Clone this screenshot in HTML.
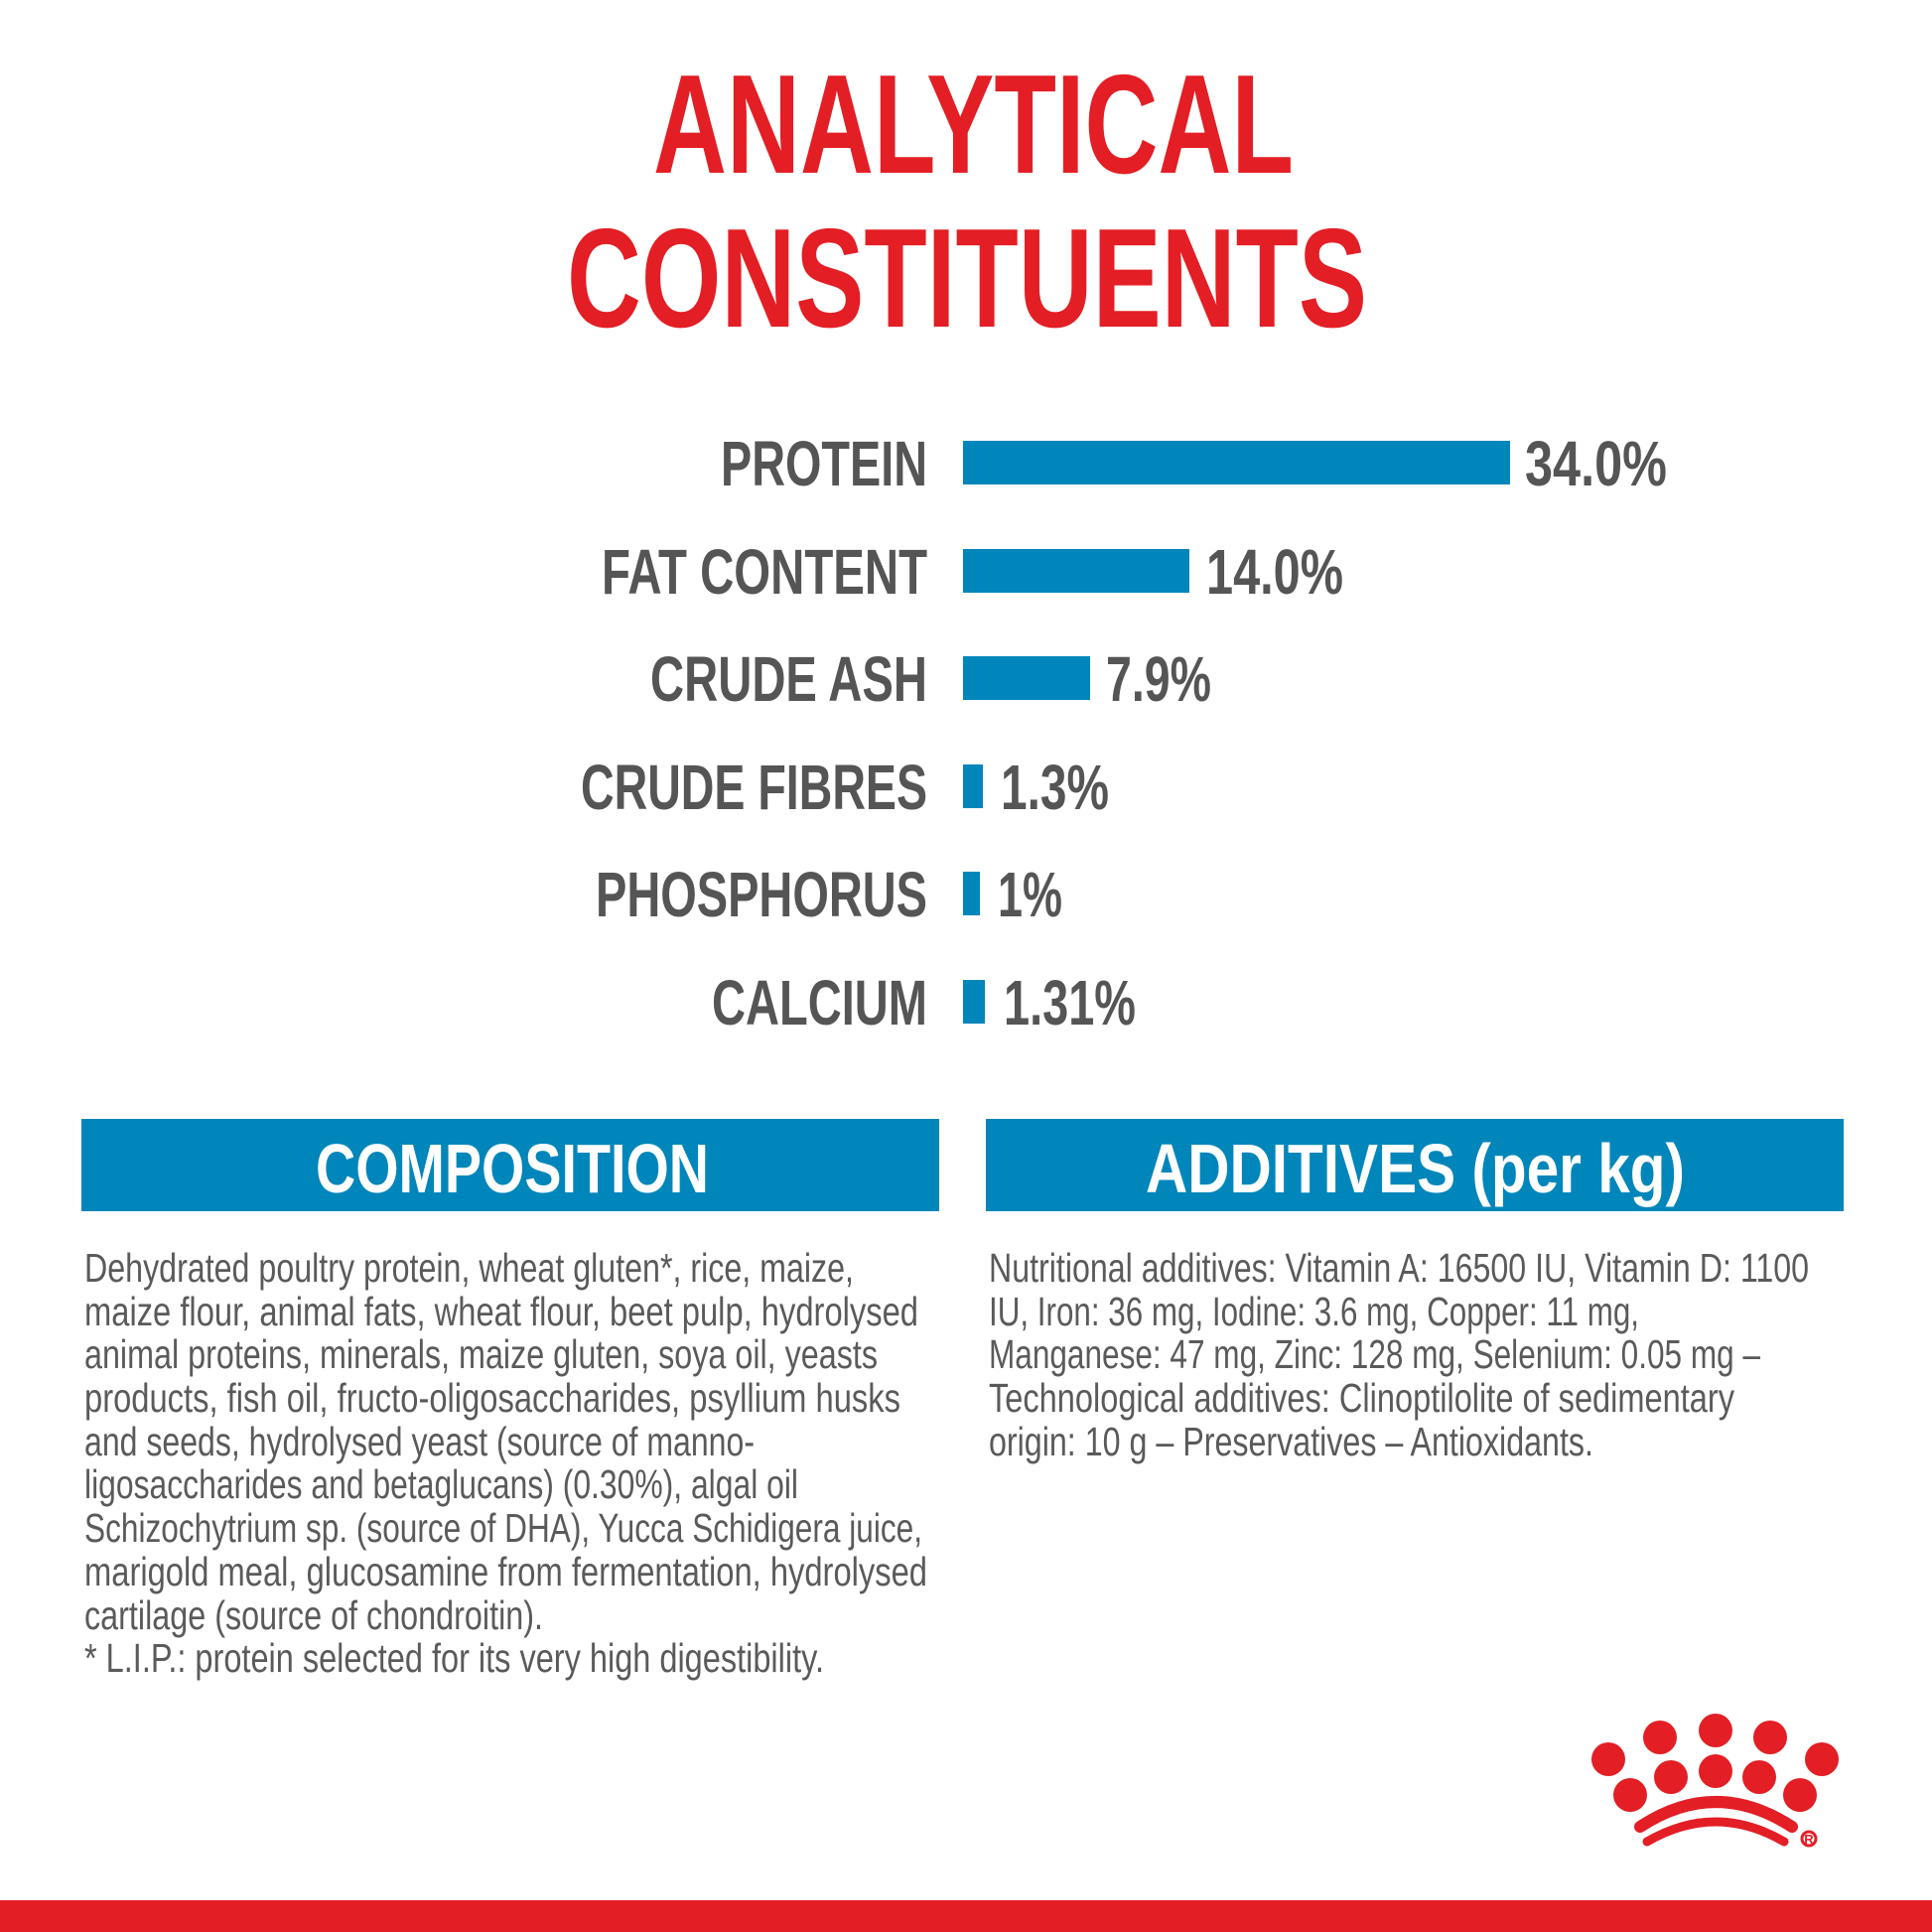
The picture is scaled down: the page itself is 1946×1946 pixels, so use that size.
<!DOCTYPE html>
<html><head><meta charset="utf-8"><style>
html,body{margin:0;padding:0;background:#fff}
svg{display:block}
</style></head><body>
<svg width="1946" height="1946" viewBox="0 0 1946 1946" xmlns="http://www.w3.org/2000/svg" font-family="'Liberation Sans Narrow','Liberation Sans',sans-serif">
<rect width="1946" height="1946" fill="#fff"/>
<g fill="#e31e24" font-family="'Liberation Sans',sans-serif" font-weight="bold">
<text x="658" y="174" font-size="142" textLength="645" lengthAdjust="spacingAndGlyphs">ANALYTICAL</text>
<text x="571" y="329" font-size="142" textLength="806" lengthAdjust="spacingAndGlyphs">CONSTITUENTS</text>
</g>
<g fill="#555" font-weight="bold" font-size="64" font-family="'Liberation Sans',sans-serif">
<text x="726" y="489" textLength="208" lengthAdjust="spacingAndGlyphs">PROTEIN</text>
<text x="606" y="598" textLength="328" lengthAdjust="spacingAndGlyphs">FAT CONTENT</text>
<text x="655" y="706" textLength="279" lengthAdjust="spacingAndGlyphs">CRUDE ASH</text>
<text x="585" y="815" textLength="349" lengthAdjust="spacingAndGlyphs">CRUDE FIBRES</text>
<text x="600" y="923" textLength="334" lengthAdjust="spacingAndGlyphs">PHOSPHORUS</text>
<text x="717" y="1032" textLength="217" lengthAdjust="spacingAndGlyphs">CALCIUM</text>
<text x="1536" y="489" textLength="143" lengthAdjust="spacingAndGlyphs">34.0%</text>
<text x="1215" y="598" textLength="138" lengthAdjust="spacingAndGlyphs">14.0%</text>
<text x="1114" y="706" textLength="106" lengthAdjust="spacingAndGlyphs">7.9%</text>
<text x="1008" y="815" textLength="109" lengthAdjust="spacingAndGlyphs">1.3%</text>
<text x="1005" y="923" textLength="65" lengthAdjust="spacingAndGlyphs">1%</text>
<text x="1011" y="1032" textLength="133" lengthAdjust="spacingAndGlyphs">1.31%</text>
</g>
<g fill="#0086ba">
<rect x="970" y="444" width="551" height="44"/>
<rect x="970" y="553" width="228" height="44"/>
<rect x="970" y="661" width="128" height="44"/>
<rect x="970" y="770" width="20" height="44"/>
<rect x="970" y="878" width="17" height="44"/>
<rect x="970" y="987" width="22" height="44"/>
<rect x="82" y="1127" width="864" height="93"/>
<rect x="993" y="1127" width="864" height="93"/>
</g>
<g fill="#fff" font-weight="bold" font-size="70" font-family="'Liberation Sans',sans-serif">
<text x="318" y="1201" textLength="396" lengthAdjust="spacingAndGlyphs">COMPOSITION</text>
<text x="1154" y="1201" textLength="543" lengthAdjust="spacingAndGlyphs">ADDITIVES (per kg)</text>
</g>
<g fill="#5a5a5a" font-size="41">
<text x="85" y="1291" textLength="775" lengthAdjust="spacingAndGlyphs">Dehydrated poultry protein, wheat gluten*, rice, maize,</text>
<text x="85" y="1335" textLength="840" lengthAdjust="spacingAndGlyphs">maize flour, animal fats, wheat flour, beet pulp, hydrolysed</text>
<text x="85" y="1378" textLength="799" lengthAdjust="spacingAndGlyphs">animal proteins, minerals, maize gluten, soya oil, yeasts</text>
<text x="85" y="1422" textLength="822" lengthAdjust="spacingAndGlyphs">products, fish oil, fructo-oligosaccharides, psyllium husks</text>
<text x="85" y="1466" textLength="675" lengthAdjust="spacingAndGlyphs">and seeds, hydrolysed yeast (source of manno-</text>
<text x="85" y="1509" textLength="719" lengthAdjust="spacingAndGlyphs">ligosaccharides and betaglucans) (0.30%), algal oil</text>
<text x="85" y="1553" textLength="844" lengthAdjust="spacingAndGlyphs">Schizochytrium sp. (source of DHA), Yucca Schidigera juice,</text>
<text x="85" y="1597" textLength="849" lengthAdjust="spacingAndGlyphs">marigold meal, glucosamine from fermentation, hydrolysed</text>
<text x="85" y="1641" textLength="462" lengthAdjust="spacingAndGlyphs">cartilage (source of chondroitin).</text>
<text x="85" y="1684" textLength="745" lengthAdjust="spacingAndGlyphs">* L.I.P.: protein selected for its very high digestibility.</text>
<text x="996" y="1291" textLength="826" lengthAdjust="spacingAndGlyphs">Nutritional additives: Vitamin A: 16500 IU, Vitamin D: 1100</text>
<text x="996" y="1335" textLength="655" lengthAdjust="spacingAndGlyphs">IU, Iron: 36 mg, Iodine: 3.6 mg, Copper: 11 mg,</text>
<text x="996" y="1378" textLength="777" lengthAdjust="spacingAndGlyphs">Manganese: 47 mg, Zinc: 128 mg, Selenium: 0.05 mg –</text>
<text x="996" y="1422" textLength="751" lengthAdjust="spacingAndGlyphs">Technological additives: Clinoptilolite of sedimentary</text>
<text x="996" y="1466" textLength="609" lengthAdjust="spacingAndGlyphs">origin: 10 g – Preservatives – Antioxidants.</text>
</g>
<g fill="#e31e24">
<circle cx="1620" cy="1772" r="17"/>
<circle cx="1642" cy="1808" r="17"/>
<circle cx="1672" cy="1750" r="17"/>
<circle cx="1683" cy="1790" r="17"/>
<circle cx="1728" cy="1743" r="17"/>
<circle cx="1728" cy="1784" r="17"/>
<circle cx="1783" cy="1750" r="17"/>
<circle cx="1772" cy="1790" r="17"/>
<circle cx="1835" cy="1772" r="17"/>
<circle cx="1813" cy="1808" r="17"/>
<circle cx="1822" cy="1852" r="7" fill="none" stroke="#e31e24" stroke-width="3"/>
<text x="1822" y="1857" font-size="13" font-weight="bold" text-anchor="middle" font-family="'Liberation Sans',sans-serif">R</text>
<rect x="0" y="1914" width="1946" height="32"/>
</g>
<g fill="none" stroke="#e31e24" stroke-linecap="round">
<path d="M1652 1840 Q1728 1790 1805 1840" stroke-width="12"/>
<path d="M1659 1855 Q1728 1815 1797 1855" stroke-width="9"/>
</g>
</svg>
</body></html>
